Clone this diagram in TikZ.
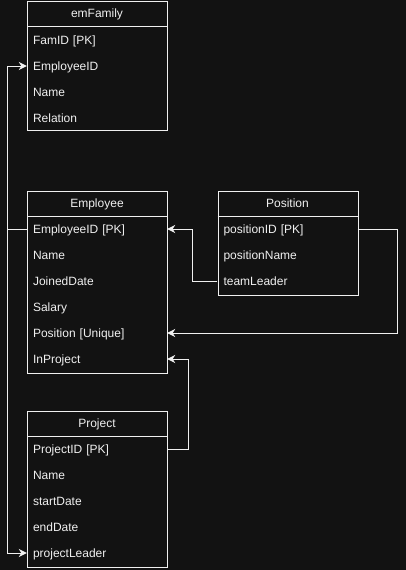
\documentclass[tikz,border=0pt]{standalone}
\usepackage{fontspec}
\setmainfont{Liberation Sans}
\usetikzlibrary{arrows.meta}
\definecolor{bgc}{RGB}{18,18,18}
\definecolor{fgc}{RGB}{240,240,240}
\tikzset{
  tbl/.style={draw=fgc, line width=1pt, fill=bgc, minimum width=140pt, anchor=north west, inner sep=0pt},
  hdr/.style={text=fgc, font=\fontsize{12}{14}\selectfont, anchor=center, inner sep=0pt, text height=10pt, text depth=2pt},
  rowx/.style={text=fgc, font=\fontsize{12}{14}\selectfont, minimum width=140pt, minimum height=26pt, text width=128pt, align=left, inner xsep=6pt, inner ysep=0pt, anchor=center, text height=10pt, text depth=2pt},
  conn/.style={draw=fgc, line width=1pt, -{Stealth[length=8pt,width=8pt,inset=2.5pt]}},
  seg/.style={draw=fgc, line width=1pt}
}
\begin{document}
\begin{tikzpicture}[x=1pt,y=-1pt]
\fill[bgc] (0,0) rectangle (406,570);
\useasboundingbox (0,0) rectangle (406,570);
% emFamily
\node[tbl, minimum height=129pt] (famBox) at (27,1) {};
\node[hdr] (famHdr) at (97,13.5) {emFamily};
\draw[seg] (27,26.5) -- (167,26.5);
\node[rowx] (fFamID) at (97,40) {FamID [PK]};
\node[rowx] (fEmpID) at (97,66) {EmployeeID};
\node[rowx] (fName) at (97,92) {Name};
\node[rowx] (fRel) at (97,118) {Relation};
% Employee
\node[tbl, minimum height=182pt] (empBox) at (27,190.5) {};
\node[hdr] (empHdr) at (97,203) {Employee};
\draw[seg] (27,216) -- (167,216);
\node[rowx] (eEmpID) at (97,229) {EmployeeID [PK]};
\node[rowx] (eName) at (97,255) {Name};
\node[rowx] (eJoined) at (97,281) {JoinedDate};
\node[rowx] (eSalary) at (97,307) {Salary};
\node[rowx] (ePos) at (97,333) {Position [Unique]};
\node[rowx] (eInProj) at (97,359) {InProject};
% Position
\node[tbl, minimum height=104pt] (posBox) at (217.5,190.5) {};
\node[hdr] (posHdr) at (287.5,203) {Position};
\draw[seg] (217.5,216) -- (357.5,216);
\node[rowx] (posID) at (287.5,229) {positionID [PK]};
\node[rowx] (posName) at (287.5,255) {positionName};
\node[rowx] (posLeader) at (287.5,281) {teamLeader};
% Project
\node[tbl, minimum height=156pt] (prjBox) at (27,410.5) {};
\node[hdr] (prjHdr) at (97,423) {Project};
\draw[seg] (27,436) -- (167,436);
\node[rowx] (prjID) at (97,449) {ProjectID [PK]};
\node[rowx] (prjName) at (97,475) {Name};
\node[rowx] (prjStart) at (97,501) {startDate};
\node[rowx] (prjEnd) at (97,527) {endDate};
\node[rowx] (prjLeader) at (97,553) {projectLeader};
% connectors
\draw[conn] (eEmpID.west) -- ++(-19,0) |- (fEmpID.west);
\draw[conn] (eEmpID.west) -- ++(-19,0) |- (prjLeader.west);
\draw[conn] (posLeader.west) -- ++(-25,0) |- (eEmpID.east);
\draw[conn] (posID.east) -- ++(40,0) |- (ePos.east);
\draw[conn] (prjID.east) -- ++(21,0) |- (eInProj.east);
\end{tikzpicture}
\end{document}
